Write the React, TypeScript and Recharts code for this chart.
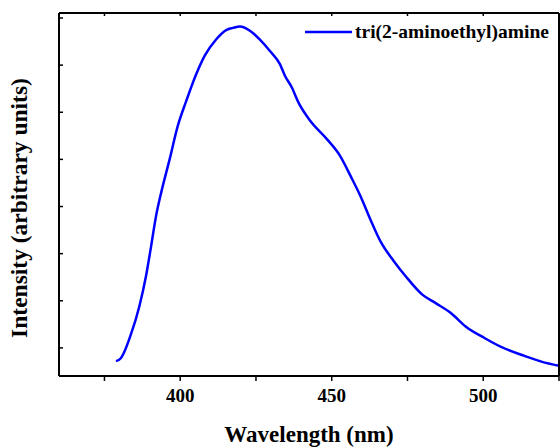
import { LineChart, Line, XAxis, YAxis, Legend } from 'recharts'

// emission spectrum
const wavelength = [
  378.8, 380.4, 383.7, 386.5, 388.7, 390.4, 392.0, 393.7, 396.5, 399.2,
  402.0, 405.3, 408.1, 411.9, 415.3, 417.4, 419.7, 423.0, 426.3, 429.6,
  432.9, 434.6, 436.8, 439.0, 442.9, 448.4, 452.8, 456.2, 459.5, 462.8,
  466.1, 470.5, 474.4, 479.9, 484.3, 489.3, 494.3, 500.4, 505.9, 513.6,
  519.2, 525.0,
]
const intensity = [
  0.72, 0.78, 1.28, 1.88, 2.52, 3.16, 3.79, 4.29, 5.0, 5.71,
  6.24, 6.81, 7.2, 7.55, 7.75, 7.79, 7.82, 7.73, 7.54, 7.3,
  7.02, 6.77, 6.53, 6.21, 5.82, 5.43, 5.07, 4.65, 4.22, 3.72,
  3.26, 2.84, 2.52, 2.13, 1.95, 1.74, 1.45, 1.21, 1.02, 0.83,
  0.71, 0.62,
]
const xTicks = [375, 400, 425, 450, 475, 500, 525]
const xLabelled = [400, 450, 500]
const yTicks = [1, 2, 3, 4, 5, 6, 7, 8]
const seriesName = 'tri(2-aminoethyl)amine'

const data = wavelength.map((w, i) => ({ w, v: intensity[i] }))

const font = '"Liberation Serif", "Times New Roman", serif'
const axisLine = { stroke: '#000', strokeWidth: 2 }
const tickLine = { stroke: '#000', strokeWidth: 1.5 }

const renderLegend = () => (
  <div style={{ display: 'flex', alignItems: 'center', fontFamily: font }}>
    <svg width={50} height={10}>
      <line x1={0} y1={5} x2={47} y2={5} stroke="#0000ff" strokeWidth={2.5} />
    </svg>
    <span style={{ fontSize: 19.5, fontWeight: 'bold', color: '#000' }}>{seriesName}</span>
  </div>
)

export default function App() {
  return (
    <div style={{ position: 'absolute', top: 0, left: 0, width: 560, height: 447, background: '#fff', fontFamily: font }}>
      <LineChart
        width={560}
        height={447}
        data={data}
        margin={{ top: 13, right: 1, bottom: 3, left: 59 }}
      >
        <XAxis
          dataKey="w"
          type="number"
          domain={[360, 525]}
          ticks={xTicks}
          allowDataOverflow
          tickFormatter={(v) => (xLabelled.includes(v) ? String(v) : '')}
          tick={{ fill: '#000', fontSize: 19, fontWeight: 'bold', fontFamily: font }}
          tickSize={5}
          tickMargin={8}
          axisLine={axisLine}
          tickLine={tickLine}
          height={68}
          label={{
            value: 'Wavelength (nm)',
            position: 'insideBottom',
            offset: 2,
            fill: '#000',
            fontSize: 23,
            fontWeight: 'bold',
            fontFamily: font,
          }}
        />
        <XAxis
          xAxisId="top"
          orientation="top"
          dataKey="w"
          type="number"
          domain={[360, 525]}
          ticks={xTicks}
          tickFormatter={() => ''}
          mirror
          tickSize={3}
          axisLine={axisLine}
          tickLine={tickLine}
          height={1}
        />
        <YAxis
          type="number"
          domain={[0.404, 8.106]}
          ticks={yTicks}
          allowDataOverflow
          tickFormatter={() => ''}
          mirror
          tickSize={4}
          axisLine={axisLine}
          tickLine={tickLine}
          width={1}
          label={{
            content: () => (
              <text
                x={27}
                y={208}
                transform="rotate(-90 27 208)"
                textAnchor="middle"
                fill="#000"
                fontSize={23.5}
                fontWeight="bold"
                fontFamily={font}
              >
                Intensity (arbitrary units)
              </text>
            ),
          }}
        />
        <YAxis
          yAxisId="right"
          orientation="right"
          type="number"
          domain={[0.404, 8.106]}
          ticks={yTicks}
          tickFormatter={() => ''}
          mirror
          tickSize={4}
          axisLine={axisLine}
          tickLine={tickLine}
          width={1}
        />
        <Legend
          content={renderLegend}
          verticalAlign="middle"
          align="center"
          wrapperStyle={{ top: 21, left: 305, width: 260 }}
        />
        <Line
          dataKey="v"
          stroke="#0000ff"
          strokeWidth={2.5}
          dot={false}
          type="monotone"
          isAnimationActive={false}
        />
      </LineChart>
    </div>
  )
}
